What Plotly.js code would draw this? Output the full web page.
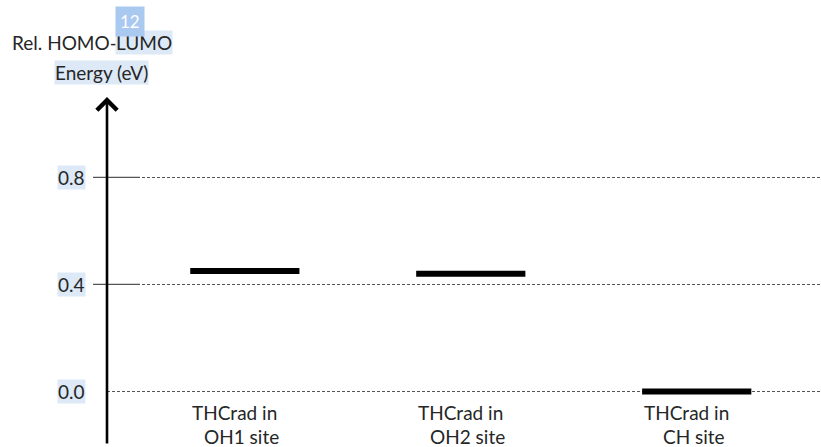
<!DOCTYPE html>
<html>
<head>
<meta charset="utf-8">
<script src="https://cdn.plot.ly/plotly-3.0.1.min.js"></script>
<style>html,body{margin:0;padding:0;background:#fff;}#chart{width:821px;height:447px;}</style>
</head>
<body>
<div id="chart"></div>
<script>
// Data
const categories = ['OH1', 'OH2', 'CH'];
const energies = [0.45, 0.44, 0.0];
const labelLine1 = ['THCrad in', 'THCrad in', 'THCrad in'];
const labelLine2 = ['OH1 site', 'OH2 site', 'CH site'];
const tickValues = [0.0, 0.4, 0.8];
const tickLabels = ['0.0', '0.4', '0.8'];
const tickMarked = [0.4, 0.8];
const titleLine1a = 'Rel. HOMO-';
const titleLine1b = 'LUMO';
const titleLine2 = 'Energy (eV)';
const badgeText = '12';

const FONT = 'Lato, "Open Sans", sans-serif';
const TXT = '#262626';
const HL = '#dde9f7';
const FS = 19;

const trace = {
  type: 'scatter',
  mode: 'markers',
  x: categories,
  y: energies,
  marker: {symbol: 'line-ew', size: 78, color: '#000', line: {color: '#000', width: 6}},
  hoverinfo: 'skip',
  showlegend: false
};

const annotations = [];
categories.forEach((c, i) => {
  annotations.push({xref: 'x', yref: 'y', x: c, y: 0, text: labelLine1[i], showarrow: false,
    xanchor: 'center', yanchor: 'middle', yshift: -21, xshift: -10,
    font: {family: FONT, size: FS, color: TXT}});
  annotations.push({xref: 'x', yref: 'y', x: c, y: 0, text: labelLine2[i], showarrow: false,
    xanchor: 'center', yanchor: 'middle', yshift: -45, xshift: -3,
    font: {family: FONT, size: FS, color: TXT}});
});
tickValues.forEach((v, i) => {
  annotations.push({xref: 'paper', yref: 'y', x: 0, y: v, text: tickLabels[i], showarrow: false,
    xanchor: 'right', yanchor: 'middle', xshift: -21, bgcolor: HL, borderpad: 0,
    font: {family: FONT, size: FS, color: TXT}});
});
// axis arrow
annotations.push({xref: 'paper', yref: 'paper', x: 0, y: 1, ax: 0, ay: 348, axref: 'pixel', ayref: 'pixel',
  text: '', showarrow: true, arrowhead: 4, arrowsize: 1.5, arrowwidth: 2.6, arrowcolor: '#000'});
// titles
annotations.push({xref: 'paper', yref: 'paper', x: 0, y: 1, xshift: 12, yshift: 55, text: titleLine1a,
  showarrow: false, xanchor: 'right', yanchor: 'middle', font: {family: FONT, size: FS, color: TXT}});
annotations.push({xref: 'paper', yref: 'paper', x: 0, y: 1, xshift: 8, yshift: 55, text: titleLine1b,
  showarrow: false, xanchor: 'left', yanchor: 'middle', bgcolor: HL, borderpad: 0,
  font: {family: FONT, size: FS, color: TXT}});
annotations.push({xref: 'paper', yref: 'paper', x: 0, y: 1, xshift: -6, yshift: 25, text: titleLine2,
  showarrow: false, xanchor: 'center', yanchor: 'middle', bgcolor: HL, borderpad: 0,
  font: {family: FONT, size: FS, color: TXT}});
annotations.push({xref: 'paper', yref: 'paper', x: 0, y: 1, xshift: 23, yshift: 76, text: badgeText,
  showarrow: false, xanchor: 'center', yanchor: 'middle', bgcolor: '#a9c9f0', borderpad: 4,
  font: {family: FONT, size: 17, color: '#ffffff'}});

const shapes = tickMarked.map(v => ({
  type: 'line', xref: 'paper', yref: 'y', xsizemode: 'pixel', xanchor: 0,
  x0: -14, x1: 33, y0: v, y1: v, line: {color: '#555', width: 1.2}
}));

const layout = {
  width: 821, height: 447,
  margin: {l: 107, r: 0, t: 97, b: 2, pad: 0},
  paper_bgcolor: '#fff', plot_bgcolor: '#fff',
  showlegend: false,
  xaxis: {type: 'category', categoryarray: categories, range: [-0.61, 2.55],
    showgrid: false, zeroline: false, showline: false, showticklabels: false, ticks: ''},
  yaxis: {range: [-0.2, 1.1], tickvals: tickValues, showticklabels: false, ticks: '',
    showgrid: true, gridcolor: '#555', gridwidth: 1, griddash: '3px,2px',
    zeroline: false, showline: false},
  annotations: annotations,
  shapes: shapes
};

Plotly.newPlot('chart', [trace], layout, {displayModeBar: false, staticPlot: true});
</script>
</body>
</html>
